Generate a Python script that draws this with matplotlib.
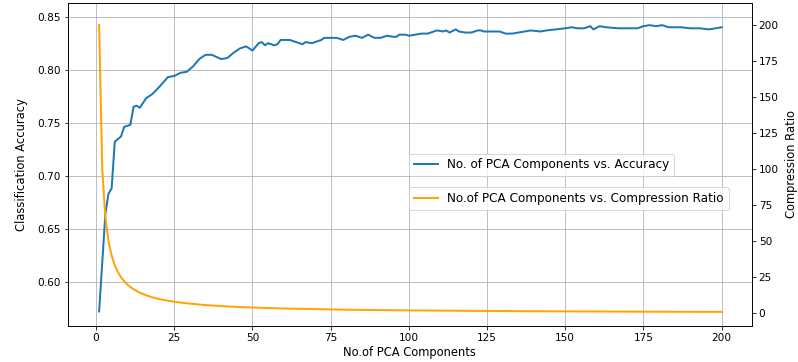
import matplotlib
matplotlib.use("Agg")
from matplotlib import pyplot as plt

# accuracy, by number of PCA components
n_acc = [1, 3, 4, 5, 6, 8, 9, 11, 12, 13, 14, 16, 18, 20, 23, 25, 27, 29, 31, 33,
         35, 37, 40, 42, 44, 46, 48, 50, 52, 53, 54, 55, 57, 58, 59, 62, 65, 66, 67, 69,
         70, 72, 73, 77, 79, 81, 83, 85, 87, 89, 91, 93, 95, 96, 97, 99, 100, 102, 104, 106,
         107, 109, 111, 112, 113, 115, 116, 118, 120, 122, 123, 124, 127, 129, 131, 133, 135, 137, 139, 142,
         144, 147, 150, 152, 154, 156, 158, 159, 161, 163, 167, 171, 173, 175, 177, 179, 181, 183, 187, 190,
         193, 196, 198, 200]
accuracy = [0.572, 0.664, 0.683, 0.688, 0.732, 0.737, 0.746, 0.748, 0.765, 0.766, 0.764, 0.773, 0.777, 0.783, 0.793, 0.794, 0.797, 0.798, 0.803, 0.810,
            0.814, 0.814, 0.810, 0.811, 0.816, 0.820, 0.822, 0.818, 0.825, 0.826, 0.823, 0.825, 0.823, 0.824, 0.828, 0.828, 0.825, 0.824, 0.826, 0.825,
            0.826, 0.828, 0.830, 0.830, 0.828, 0.831, 0.832, 0.830, 0.833, 0.830, 0.830, 0.832, 0.831, 0.831, 0.833, 0.833, 0.832, 0.833, 0.834, 0.834,
            0.835, 0.837, 0.836, 0.837, 0.835, 0.838, 0.836, 0.835, 0.835, 0.837, 0.837, 0.836, 0.836, 0.836, 0.834, 0.834, 0.835, 0.836, 0.837, 0.836,
            0.837, 0.838, 0.839, 0.840, 0.839, 0.839, 0.841, 0.838, 0.841, 0.840, 0.839, 0.839, 0.839, 0.841, 0.842, 0.841, 0.842, 0.840, 0.840, 0.839,
            0.839, 0.838, 0.839, 0.840]

# compression ratio
n_ratio = [1, 2, 3, 4, 5, 6, 7, 8, 9, 10, 11, 12, 14, 16, 18, 20, 23, 26, 30, 35,
           40, 45, 50, 60, 70, 80, 100, 120, 140, 160, 180, 200]
ratio = [200, 100, 66.7, 50, 40, 33.3, 28.6, 25, 22.2, 20, 18.2, 16.7, 14.3, 12.5, 11.1, 10, 8.7, 7.7, 6.7, 5.7,
         5, 4.4, 4, 3.3, 2.9, 2.5, 2, 1.7, 1.4, 1.25, 1.1, 1]

fig = plt.figure(figsize=(798 / 72, 362 / 72), dpi=72)
ax1 = fig.add_axes([0.0852, 0.1003, 0.8568, 0.8906])
ax1.plot(n_acc, accuracy, color='C0', linewidth=2, label='No. of PCA Components vs. Accuracy')
ax1.set_xlabel('No.of PCA Components', fontsize=11.5, labelpad=3)
ax1.set_ylabel('Classification Accuracy', fontsize=11.5, labelpad=9)
ax1.set_ylim(0.5585, 0.8626)
ax1.tick_params(labelsize=10.5)
ax1.grid(True)
ax1.legend(loc='lower left', bbox_to_anchor=(0.49, 0.445), fontsize=12)

ax2 = ax1.twinx()
ax2.plot(n_ratio, ratio, color='orange', linewidth=2, label='No.of PCA Components vs. Compression Ratio')
ax2.set_ylabel('Compression Ratio', fontsize=11.5, labelpad=6)
ax2.set_ylim(-8.6, 215)
ax2.tick_params(labelsize=10.5)
ax2.legend(loc='lower left', bbox_to_anchor=(0.49, 0.34), fontsize=12)

ax1.set_xlim(-8.95, 209.6)

fig.savefig('out.png', dpi=72)
